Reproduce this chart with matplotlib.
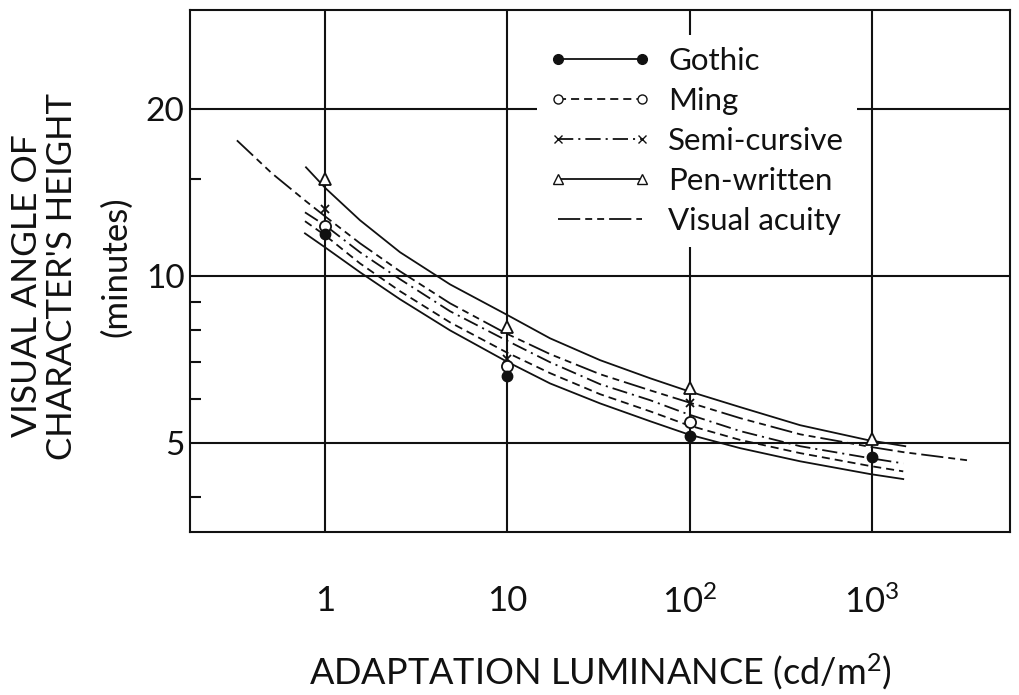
import numpy as np
import matplotlib
matplotlib.use("Agg")
import matplotlib.pyplot as plt
from matplotlib.lines import Line2D
from matplotlib.ticker import FixedLocator, NullFormatter

plt.rcParams['font.family'] = ['Lato', 'DejaVu Sans']
plt.rcParams['font.weight'] = 'normal'
plt.rcParams['mathtext.fontset'] = 'custom'
plt.rcParams['mathtext.rm'] = 'Lato'
plt.rcParams['mathtext.default'] = 'regular'
plt.rcParams['lines.scale_dashes'] = False

# measured points (cd/m2 -> minutes)
lum_points = [1, 10, 100, 1000]
gothic_pts = [11.9, 6.6, 5.15, 4.73]
ming_pts = [12.3, 6.9, 5.47, np.nan]
semi_pts = [13.2, 7.1, 5.9, np.nan]
pen_pts = [15.0, 8.1, 6.28, 5.1]

# fitted curves
curve_lum = [0.777, 1, 1.556, 2.58, 4.85, 9.84, 17.15, 32.25, 60.6, 98, 189, 403, 976, 1481]
gothic_curve = [11.95, 11.28, 10.17, 9.09, 7.99, 7.03, 6.41, 5.90, 5.48, 5.19, 4.90, 4.64, 4.40, 4.31]
ming_curve = [12.57, 11.86, 10.55, 9.40, 8.26, 7.30, 6.69, 6.13, 5.71, 5.39, 5.07, 4.80, 4.55, 4.45]
semi_curve = [13.04, 12.36, 11.05, 9.88, 8.65, 7.67, 7.00, 6.39, 5.98, 5.64, 5.26, 4.94, 4.70, 4.60]
pen_lum = [0.787, 1.01, 1.556, 2.58, 4.85, 9.84, 17.15, 32.25, 60.6, 98, 189, 403, 940, 1519]
pen_curve = [15.72, 14.40, 12.62, 11.05, 9.67, 8.54, 7.73, 7.06, 6.55, 6.21, 5.81, 5.39, 5.07, 4.94]
acuity_lum = [0.329, 0.512, 0.777, 1, 1.556, 2.58, 4.85, 9.84, 17.15, 32.25, 60.6, 98, 189, 403,
              1001, 1481, 3325]
acuity_curve = [17.58, 15.33, 13.70, 12.83, 11.47, 10.21, 8.94, 7.89, 7.24, 6.66, 6.23, 5.93, 5.55,
                5.19, 4.92, 4.82, 4.66]

x_ticks = [1, 10, 100, 1000]
x_labels = ['1', '10', '$10^2$', '$10^3$']
y_ticks = [5, 10, 20]
y_labels = ['5', '10', '20']
y_minor = [4, 6, 7, 8, 9, 15]

ink = '#111111'
lw = 1.3
ming_ls = (0, (5.8, 3.6))
semi_ls = (0, (11, 3.6, 1.5, 3.6))
acuity_ls = (0, (16, 3.6, 5, 3.6, 5, 3.6))

fig = plt.figure(figsize=(10.2, 6.95), dpi=100)
ax = fig.add_axes([190 / 1020, 1 - 532 / 695, 820 / 1020, 522 / 695])
ax.set_xscale('log')
ax.set_yscale('log')
ax.set_xlim(0.182, 5700)
ax.set_ylim(3.46, 30.2)

# curves
ax.plot(curve_lum, gothic_curve, color=ink, lw=lw)
ax.plot(curve_lum, ming_curve, color=ink, lw=lw, ls=ming_ls)
ax.plot(curve_lum, semi_curve, color=ink, lw=lw, ls=semi_ls)
ax.plot(pen_lum, pen_curve, color=ink, lw=lw)
ax.plot(acuity_lum, acuity_curve, color=ink, lw=lw, ls=acuity_ls)

# data points
ax.plot(lum_points, pen_pts, ls='none', marker='^', ms=9, mfc='white', mec=ink, mew=1.3, zorder=5)
ax.plot(lum_points, semi_pts, ls='none', marker='x', ms=6, mec=ink, mew=1.3, zorder=5)
ax.plot(lum_points, ming_pts, ls='none', marker='o', ms=8, mfc='white', mec=ink, mew=1.3, zorder=5)
ax.plot(lum_points, gothic_pts, ls='none', marker='o', ms=7.5, mfc=ink, mec=ink, zorder=6)

# axes styling
ax.xaxis.set_major_locator(FixedLocator(x_ticks))
ax.xaxis.set_minor_locator(FixedLocator([]))
ax.set_xticklabels(x_labels)
ax.yaxis.set_major_locator(FixedLocator(y_ticks))
ax.yaxis.set_minor_locator(FixedLocator(y_minor))
ax.yaxis.set_minor_formatter(NullFormatter())
ax.set_yticklabels(y_labels)
ax.tick_params(axis='both', which='major', length=0, colors=ink)
ax.tick_params(axis='x', which='major', pad=38, labelsize=25)
ax.tick_params(axis='y', which='major', pad=4, labelsize=24)
ax.tick_params(axis='y', which='minor', direction='in', length=8, width=1.5, color=ink)
ax.grid(True, which='major', color=ink, lw=1.5)
for s in ax.spines.values():
    s.set_linewidth(1.5)
    s.set_color(ink)

# legend
handles = [
    Line2D([], [], color=ink, lw=lw, marker='o', ms=7, mfc=ink, mec=ink),
    Line2D([], [], color=ink, lw=lw, ls=ming_ls, marker='o', ms=6.5, mfc='white', mec=ink),
    Line2D([], [], color=ink, lw=lw, ls=semi_ls, marker='x', ms=5.5, mec=ink),
    Line2D([], [], color=ink, lw=lw, marker='^', ms=7, mfc='white', mec=ink),
    Line2D([], [], color=ink, lw=lw, ls=acuity_ls),
]
labels = ['Gothic', 'Ming', 'Semi-cursive', 'Pen-written', 'Visual acuity']
leg = ax.legend(handles, labels, loc='upper left', bbox_to_anchor=(0.4226, 0.953),
                borderaxespad=0, numpoints=2, handlelength=3.26, handletextpad=0.56,
                labelspacing=0.38, borderpad=0.4, fontsize=22.5, frameon=True, fancybox=False,
                facecolor='white', edgecolor='none', framealpha=1)
leg.set_zorder(10)
for t in leg.get_texts():
    t.set_color(ink)

# axis titles
fig.text(600 / 1020, 1 - 672 / 695, 'ADAPTATION LUMINANCE (cd/m$^2$)', fontsize=26,
         ha='center', va='center', color=ink)
fig.text(27 / 1020, 1 - 286 / 695, 'VISUAL ANGLE OF', fontsize=25.5, rotation=90,
         ha='center', va='center', color=ink)
fig.text(62 / 1020, 1 - 277 / 695, "CHARACTER'S HEIGHT", fontsize=25, rotation=90,
         ha='center', va='center', color=ink)
fig.text(116 / 1020, 1 - 267 / 695, '(minutes)', fontsize=25, rotation=90,
         ha='center', va='center', color=ink)

fig.savefig('out.png', dpi=100, facecolor='white')
